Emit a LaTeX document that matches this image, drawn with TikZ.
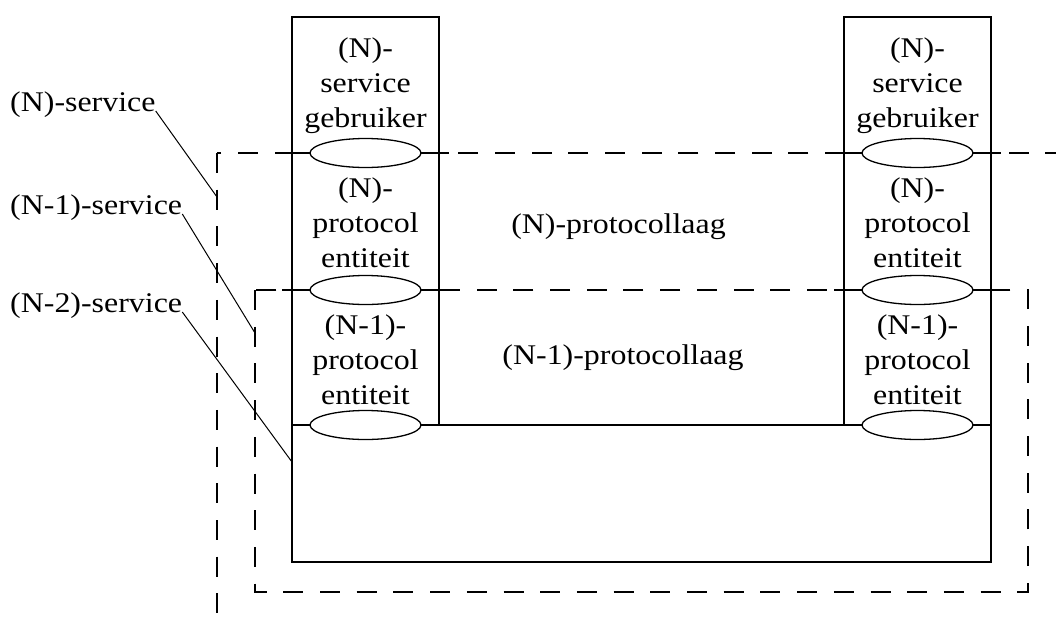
\documentclass[tikz,border=0pt]{standalone}
\usepackage{fontspec}
\setmainfont{Liberation Serif}[FakeStretch=1.12]
\usetikzlibrary{shapes.geometric}
\begin{document}
\begin{tikzpicture}[x=1pt,y=-1pt,
  wall/.style={line width=2.9pt},
  dashbox/.style={line width=2.9pt, dash pattern=on 20pt off 16.7pt},
  port/.style={ellipse, draw, fill=white, line width=1.3pt,
    minimum width=111pt, minimum height=29pt, inner sep=0pt},
  lbl/.style={font=\fontsize{28.5}{35.3}\selectfont, inner sep=0pt},
  stack/.style={lbl, align=center},
  leader/.style={line width=1pt}]
\useasboundingbox (0,0) rectangle (1056,619);

% layer boundaries (dashed)
\begin{scope}
  \clip (0,0) rectangle (1056,619);
  \draw[dashbox] (217,153) rectangle (1080,650);
\end{scope}
\draw[dashbox] (255,290) rectangle (1028,592);

% outline of the two stacks and the underlying medium
\coordinate (ltl) at (292,17);
\coordinate (ltr) at (439,17);
\coordinate (rtl) at (844,17);
\coordinate (rtr) at (991,17);
\draw[wall] (ltl) -- (ltr) -- (439,425) -- (844,425) -- (rtl) -- (rtr)
  -- (991,562) -- (292,562) -- cycle;
\draw[wall] (292,425) -- (439,425);
\draw[wall] (844,425) -- (991,425);

% service access levels
\draw[wall] (282,153) -- (449,153);
\draw[wall] (834,153) -- (1001,153);
\draw[wall] (282,290) -- (449,290);
\draw[wall] (834,290) -- (1001,290);

% service access points
\node[port] (la) at (365.5,153) {};
\node[port] (lb) at (365.5,290) {};
\node[port] (lc) at (365.5,425) {};
\node[port] (ra) at (917.5,153) {};
\node[port] (rb) at (917.5,290) {};
\node[port] (rc) at (917.5,425) {};

% entity labels
\node[stack] (lu) at (365.5,85.4) {\strut(N)-\\\strut service\\\strut gebruiker};
\node[stack] (ru) at (917.5,85.4) {\strut(N)-\\\strut service\\\strut gebruiker};
\node[stack] (lpn) at (365.5,225.4) {\strut(N)-\\\strut protocol\\\strut entiteit};
\node[stack] (rpn) at (917.5,225.4) {\strut(N)-\\\strut protocol\\\strut entiteit};
\node[stack] (lpm) at (365.5,362.5) {\strut(N-1)-\\\strut protocol\\\strut entiteit};
\node[stack] (rpm) at (917.5,362.5) {\strut(N-1)-\\\strut protocol\\\strut entiteit};

% layer names
\node[lbl, anchor=base] (nlayer) at (618.5,233) {(N)-protocollaag};
\node[lbl, anchor=base] (mlayer) at (623,364) {(N-1)-protocollaag};

% service labels with leaders
\node[lbl, anchor=base west] (sN) at (10,111) {(N)-service};
\node[lbl, anchor=base west] (sM) at (10,214) {(N-1)-service};
\node[lbl, anchor=base west] (sK) at (10,312) {(N-2)-service};
\coordinate (eN) at (217,197);
\coordinate (eM) at (255,333);
\coordinate (eK) at (292,462);
\draw[leader] (sN.base east) -- (eN);
\draw[leader] (sM.base east) -- (eM);
\draw[leader] (sK.base east) -- (eK);
\end{tikzpicture}
\end{document}
